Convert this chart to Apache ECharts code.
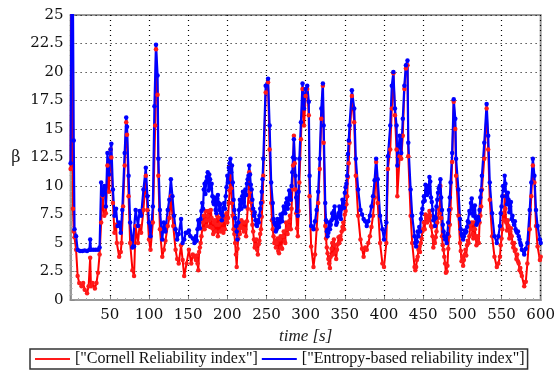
<!DOCTYPE html>
<html>
<head>
<meta charset="utf-8">
<script src="https://cdn.jsdelivr.net/npm/echarts@6/dist/echarts.min.js"></script>
<style>html,body{margin:0;padding:0;background:#fff}#c{width:558px;height:372px}</style>
</head>
<body>
<div id="c"></div>
<script>
const xTicks = [0, 50, 100, 150, 200, 250, 300, 350, 400, 450, 500, 550, 600];
const yTicks = [0, 2.5, 5, 7.5, 10, 12.5, 15, 17.5, 20, 22.5, 25];
const seriesNames = ['["Cornell Reliability index"]', '["Entropy-based reliability index"]'];

const cornell = [[0,11.5],[1,26],[2,27],[3,8.0],[4,6.0],[5,5.5],[7,4.4],[9,2.1],[11,1.5],[14,1.2],[16,1.5],[18,0.9],[21,0.6],[23,1.2],[25,3.7],[26,1.2],[28,1.5],[31,1.0],[33,1.5],[35,2.4],[37,4.0],[39,6.8],[41,9.1],[43,7.4],[45,7.6],[47,11.8],[49,9.5],[51,13.2],[52,12.5],[54,8.5],[56,5.9],[58,6.6],[59,5.0],[62,3.8],[64,4.2],[65,5.0],[67,8.2],[69,11.8],[71,15.6],[72,14.5],[74,9.1],[76,5.0],[79,2.6],[81,2.1],[83,6.5],[86,5.0],[88,6.5],[90,5.9],[93,7.9],[96,10.9],[98,7.9],[100,5.3],[102,4.4],[105,6.8],[108,15.3],[109,22.0],[111,18.0],[112,10.9],[114,6.2],[117,3.8],[119,4.4],[121,5.2],[124,6.5],[126,7.2],[128,9.1],[131,6.5],[134,4.4],[136,3.6],[138,3.2],[141,4.8],[143,3.5],[145,2.1],[148,3.2],[151,4.4],[154,3.2],[156,4.0],[158,3.8],[160,3.5],[162,3.2],[164,4.2],[166,5.0],[168,6.2],[170,7.4],[173,7.0],[175,7.4],[177,7.0],[179,7.9],[181,6.3],[183,6.8],[185,6.0],[187,7.4],[189,6.6],[192,6.8],[194,6.2],[196,7.4],[198,7.0],[200,6.8],[202,8.5],[204,11.8],[207,7.4],[210,5.0],[212,2.9],[215,6.2],[217,6.5],[219,6.8],[221,6.0],[223,6.2],[226,8.0],[228,11.2],[231,7.9],[234,5.3],[236,4.8],[238,4.4],[241,5.2],[243,6.2],[246,10.9],[249,18.2],[252,19.1],[254,13.2],[256,8.5],[259,5.6],[261,5.2],[263,5.0],[265,4.3],[267,5.3],[269,4.6],[271,5.6],[273,5.2],[275,6.8],[278,6.5],[280,7.4],[283,9.7],[285,14.4],[287,9.7],[290,5.6],[292,10.3],[294,14.1],[296,18.5],[298,15.3],[300,17.9],[302,18.5],[304,16.2],[305,9.1],[307,4.7],[310,2.9],[312,4.0],[314,6.2],[316,8.5],[318,11.5],[320,15.9],[322,18.8],[323,13.8],[325,6.5],[328,4.1],[331,2.8],[333,4.5],[336,5.3],[338,4.2],[340,4.4],[342,5.5],[344,5.6],[346,6.0],[348,6.8],[350,7.5],[353,9.1],[356,13.8],[359,17.9],[362,15.6],[364,10.9],[367,7.4],[370,5.3],[372,4.5],[374,3.8],[376,4.6],[378,4.4],[380,5.0],[382,5.6],[384,6.4],[386,7.4],[388,9.0],[390,12.1],[392,8.5],[395,5.0],[398,3.2],[400,2.9],[403,5.0],[405,11.5],[408,13.2],[410,16.8],[412,19.9],[414,16.2],[416,13.2],[417,9.1],[420,12.6],[422,12.4],[424,14.4],[426,18.5],[428,20.3],[430,20.6],[431,12.6],[434,7.4],[436,5.0],[439,2.9],[441,2.9],[444,4.4],[447,5.0],[449,6.0],[451,6.8],[454,7.2],[456,7.4],[459,7.4],[462,5.6],[465,5.0],[468,6.8],[470,8.0],[472,10.0],[474,5.6],[477,3.8],[480,2.5],[483,5.6],[485,8.0],[487,12.1],[489,17.4],[491,15.0],[492,10.9],[495,7.4],[497,5.0],[500,3.8],[502,3.5],[504,4.4],[506,4.8],[508,5.0],[511,6.2],[513,5.8],[515,6.8],[517,5.6],[519,5.3],[522,6.8],[525,9.7],[528,12.4],[531,16.8],[533,13.2],[535,8.8],[538,5.6],[541,3.8],[544,2.9],[546,3.2],[548,3.8],[551,6.2],[554,9.1],[556,6.8],[559,6.5],[561,6.0],[563,5.6],[566,5.0],[568,4.4],[570,4.0],[572,3.2],[574,2.8],[576,2.1],[579,1.2],[581,1.6],[583,3.2],[586,6.2],[588,9.1],[590,11.8],[592,10.3],[594,6.5],[596,4.7],[599,3.5],[600,3.8]];

const cornellJitter = [[161,3.9],[163,2.6],[165,4.6],[167,5.6],[169,6.8],[171,6.2],[172,7.8],[174,6.5],[176,7.8],[178,6.4],[180,7.2],[182,5.8],[184,7.0],[186,6.6],[188,5.6],[190,7.2],[191,6.0],[193,7.1],[195,5.9],[197,6.2],[199,7.6],[201,7.2],[203,9.6],[205,9.8],[206,8.5],[208,6.2],[209,5.8],[211,4.0],[213,4.5],[214,5.4],[216,5.8],[218,7.0],[220,6.3],[222,6.8],[224,5.6],[225,6.9],[227,9.2],[229,9.5],[230,8.6],[232,6.6],[233,6.0],[235,4.6],[237,5.3],[239,4.0],[240,4.9],[242,5.8],[244,7.3],[245,8.6],[257,7.0],[258,6.2],[260,5.0],[262,4.6],[264,5.4],[266,4.1],[268,5.6],[270,4.5],[272,6.0],[274,5.0],[276,6.2],[277,5.8],[279,6.9],[281,6.2],[282,8.0],[284,11.8],[286,12.0],[288,7.6],[289,6.3],[291,7.8],[326,5.4],[327,4.6],[329,3.6],[330,3.2],[332,3.8],[334,5.0],[335,4.0],[337,4.8],[339,3.6],[341,4.9],[343,5.0],[345,5.3],[347,6.4],[349,6.2],[351,7.8],[352,8.4],[354,10.8],[355,12.0],[440,2.6],[442,3.5],[443,3.8],[445,4.7],[446,4.2],[448,5.4],[450,6.2],[452,6.2],[453,7.5],[455,6.8],[457,7.0],[458,7.8],[460,6.5],[461,6.4],[463,4.6],[464,5.2],[466,5.5],[467,6.0],[469,7.2],[471,7.6],[473,7.2],[475,4.8],[476,4.4],[478,3.2],[479,2.4],[481,3.0],[482,4.5],[484,6.6],[498,4.3],[499,3.4],[501,3.0],[503,4.0],[505,3.9],[507,5.2],[509,5.6],[510,6.6],[512,6.8],[514,5.4],[516,6.2],[518,4.8],[520,5.6],[521,5.0],[523,7.4],[524,8.2],[549,4.8],[550,5.4],[552,7.6],[553,7.0],[555,8.0],[557,6.1],[558,7.0],[560,5.4],[562,6.3],[564,5.0],[565,4.6],[567,4.3],[569,3.6],[571,3.4],[573,2.6],[575,2.4]];

const entropy = [[0,12],[1,27],[2,30],[3,26],[4,14],[5,6.2],[7,5.6],[9,4.4],[12,4.3],[15,4.3],[18,4.35],[21,4.3],[24,4.4],[25,5.3],[26,4.4],[29,4.4],[32,4.4],[35,4.4],[37,4.6],[39,10.3],[41,9.2],[43,10.0],[45,8.2],[47,12.9],[49,11.0],[51,13.2],[52,13.7],[54,9.7],[56,7.4],[58,8.0],[60,6.5],[62,6.8],[64,5.9],[66,7.9],[69,12.9],[71,16.0],[72,15.2],[74,10.9],[76,6.8],[79,4.6],[81,4.7],[83,7.9],[86,6.5],[88,7.8],[90,7.4],[93,9.7],[96,11.6],[98,9.1],[100,6.8],[102,5.6],[105,8.2],[107,17],[109,22.4],[111,19.7],[112,12.4],[114,7.9],[117,5.3],[119,6.8],[121,6.0],[124,7.9],[126,8.8],[128,10.6],[130,9.1],[132,7.4],[134,6.2],[136,5.3],[138,5.8],[141,7.1],[143,5.0],[145,5.3],[147,5.9],[149,5.9],[151,6.1],[153,5.6],[156,5.4],[158,5.0],[160,5.6],[162,6.2],[164,6.8],[166,7.1],[168,8.5],[170,9.7],[173,10.4],[175,11.2],[178,10.6],[181,9.1],[183,8.4],[185,7.9],[187,8.9],[189,8.5],[192,7.6],[194,7.4],[196,8.5],[198,9.1],[200,10.9],[202,11.6],[204,12.4],[207,10.3],[209,7.9],[211,6.5],[213,5.3],[215,7.9],[217,8.4],[219,9.1],[221,8.6],[223,9.7],[226,10.6],[228,11.8],[231,9.7],[234,7.4],[236,7.0],[238,6.5],[241,7.4],[243,8.5],[246,12.4],[249,18.8],[252,19.4],[254,15.3],[256,10.3],[259,7.1],[261,6.6],[263,6.2],[265,6.9],[267,6.8],[269,7.2],[271,7.6],[273,8.0],[275,8.5],[278,8.4],[280,9.1],[283,11.2],[285,14.1],[287,10.9],[290,7.4],[292,12.4],[294,15.6],[296,19.0],[298,16.8],[300,18.5],[302,18.8],[304,17.4],[305,10.9],[307,6.5],[310,6.2],[312,6.9],[314,7.9],[316,9.5],[318,12.4],[320,16.8],[322,19.0],[323,15.3],[325,8.5],[328,5.6],[331,6.2],[333,7.0],[336,7.8],[338,7.2],[340,6.8],[342,7.6],[344,7.4],[346,8.0],[348,8.5],[350,9.4],[353,10.9],[356,15.3],[359,18.4],[362,16.8],[364,12.4],[367,9.7],[370,7.9],[372,7.5],[374,7.1],[376,6.9],[378,6.5],[380,6.9],[382,7.4],[384,8.2],[386,9.1],[388,10.5],[390,12.4],[392,10.6],[395,7.4],[398,6.2],[400,5.3],[403,6.8],[405,12.6],[408,15.3],[410,18.8],[412,20.0],[414,16.8],[416,15.3],[417,11.8],[420,14.4],[422,12.9],[424,15.9],[426,18.8],[428,20.6],[430,21.0],[431,13.8],[434,9.7],[436,7.4],[439,5.6],[441,4.7],[444,5.6],[447,7.1],[449,8.0],[451,9.1],[454,9.6],[456,10.0],[459,10.4],[462,7.9],[465,6.5],[468,8.8],[470,9.8],[472,10.6],[474,7.9],[477,5.6],[480,5.0],[483,7.9],[485,10.3],[487,12.9],[489,17.6],[491,15.9],[492,12.4],[495,9.7],[497,7.1],[500,5.6],[502,5.6],[504,5.9],[506,6.4],[508,6.8],[511,8.5],[513,8.0],[515,7.9],[517,7.2],[519,6.8],[522,7.9],[525,10.9],[528,13.8],[531,17.2],[533,14.4],[535,10.3],[538,7.6],[541,5.6],[544,5.0],[546,5.6],[548,6.5],[551,9.1],[554,10.9],[556,9.1],[559,8.8],[561,8.2],[563,7.1],[566,6.6],[568,6.2],[570,5.9],[572,5.6],[574,5.0],[576,4.4],[579,4.0],[581,4.5],[583,5.0],[586,7.9],[588,10.3],[590,12.4],[592,10.9],[594,7.9],[596,6.5],[599,5.3],[600,5.0]];

const entropyJitter = [[161,5.2],[163,7.0],[165,6.3],[167,7.8],[169,8.0],[171,10.2],[172,9.3],[174,10.8],[176,9.6],[177,11.0],[179,9.8],[180,10.2],[182,8.6],[184,9.0],[186,7.6],[188,9.2],[190,7.9],[191,8.4],[193,7.0],[195,8.1],[197,8.0],[199,9.9],[201,10.3],[203,12.0],[205,11.2],[206,11.8],[208,8.8],[210,7.2],[212,6.0],[214,6.8],[216,8.8],[218,8.0],[220,9.5],[222,8.2],[224,9.2],[225,10.2],[227,10.9],[229,11.0],[230,10.1],[232,8.8],[233,8.0],[235,7.7],[237,6.6],[239,7.0],[240,6.8],[242,8.0],[244,9.5],[245,10.6],[258,8.5],[260,6.8],[262,6.0],[264,7.1],[266,6.4],[268,7.5],[270,6.9],[272,8.2],[274,7.6],[276,8.9],[277,8.0],[279,9.6],[281,8.8],[282,10.0],[284,12.5],[286,12.4],[288,9.0],[289,7.8],[291,9.5],[326,7.0],[327,6.0],[329,5.9],[330,6.8],[332,6.6],[334,7.6],[335,7.2],[337,8.2],[339,6.6],[341,7.3],[343,8.2],[345,7.1],[347,8.8],[349,8.1],[351,9.9],[352,10.2],[354,12.8],[355,14.0],[440,5.0],[442,5.1],[443,6.0],[445,6.4],[446,6.0],[448,7.6],[450,8.6],[452,8.7],[453,10.1],[455,9.2],[457,9.4],[458,10.8],[460,9.0],[461,8.6],[463,7.0],[464,7.3],[466,7.2],[467,8.2],[469,9.4],[471,10.0],[473,9.0],[475,6.6],[476,6.0],[478,5.3],[479,5.5],[481,5.8],[482,6.8],[484,9.0],[498,6.2],[499,5.8],[501,5.3],[503,6.1],[505,6.0],[507,6.9],[509,7.8],[510,7.6],[512,8.9],[514,7.4],[516,8.3],[518,6.6],[520,7.3],[521,7.0],[523,9.0],[524,9.6],[549,7.6],[550,8.2],[552,10.0],[553,9.6],[555,10.2],[557,8.4],[558,9.4],[560,7.7],[562,8.6],[564,7.4],[565,6.9],[567,6.9],[569,6.0],[571,6.0],[573,5.3],[575,4.8]];

const byTime = (a, b) => a[0] - b[0];
const cornellAll = cornell.concat(cornellJitter).sort(byTime);
const entropyAll = entropy.concat(entropyJitter).sort(byTime);

const chart = echarts.init(document.getElementById('c'), null, {renderer: 'canvas'});
const tickFont = {fontFamily: 'DejaVu Serif', fontSize: 15, color: '#111'};
chart.setOption({
  animation: false,
  grid: {left: 70.6, right: 14.4, top: 15, bottom: 72, show: true, borderColor: '#999', borderWidth: 2, backgroundColor: 'transparent'},
  legend: {
    data: seriesNames,
    left: 30, top: 349,
    icon: 'rect', itemWidth: 35, itemHeight: 2, itemGap: 4,
    padding: [2, 3, 2, 5],
    borderColor: '#333', borderWidth: 1.5, borderRadius: 0,
    textStyle: {fontFamily: 'Liberation Serif', fontSize: 16, color: '#111'}
  },
  xAxis: {
    type: 'value', min: xTicks[0], max: xTicks[xTicks.length - 1], interval: 50,
    name: 'time [s]', nameLocation: 'middle', nameGap: 26,
    nameTextStyle: {fontFamily: 'Liberation Serif', fontStyle: 'italic', fontSize: 17, color: '#222'},
    axisLine: {show: true, lineStyle: {color: '#999', width: 2}},
    axisTick: {show: true, inside: true, length: 4, lineStyle: {color: '#888'}},
    minorTick: {show: true, splitNumber: 5, length: 2, lineStyle: {color: '#aaa'}},
    axisLabel: Object.assign({margin: 8, formatter: v => (v === 0 ? '' : String(v))}, tickFont),
    splitLine: {show: true, lineStyle: {color: '#000', type: [1, 4], width: 1.2}}
  },
  yAxis: {
    type: 'value', min: yTicks[0], max: yTicks[yTicks.length - 1], interval: 2.5,
    name: 'β', nameLocation: 'middle', nameRotate: 0, nameGap: 50,
    nameTextStyle: {fontFamily: 'DejaVu Serif', fontSize: 16, color: '#222'},
    axisLine: {show: true, lineStyle: {color: '#999', width: 2}},
    axisTick: {show: true, inside: true, length: 4, lineStyle: {color: '#888'}},
    minorTick: {show: true, splitNumber: 5, length: 2, lineStyle: {color: '#aaa'}},
    axisLabel: Object.assign({margin: 7}, tickFont),
    splitLine: {show: true, lineStyle: {color: '#000', type: [1, 4], width: 1.2}}
  },
  series: [
    {name: seriesNames[0], type: 'line', data: cornellAll, symbol: 'circle', symbolSize: 4.5, showSymbol: true,
     itemStyle: {color: '#ff1a1a'}, lineStyle: {color: '#ff0000', width: 2}, clip: true},
    {name: seriesNames[1], type: 'line', data: entropyAll, symbol: 'circle', symbolSize: 4.5, showSymbol: true,
     itemStyle: {color: '#0000ff'}, lineStyle: {color: '#0000ff', width: 2.2}, clip: true}
  ]
});
</script>
</body>
</html>
